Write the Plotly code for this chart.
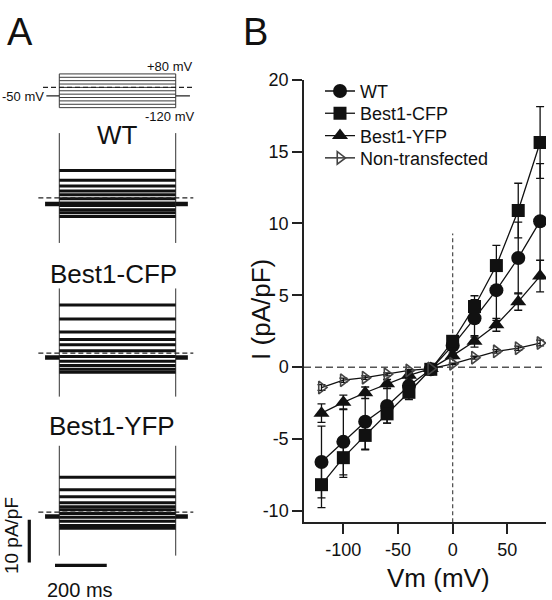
import plotly.graph_objects as go

W, H = 552, 600
FONT = "Liberation Sans, Arial, sans-serif"
INK = "#111111"

# ---------------- Panel B data (I-V relationship) ----------------
vm = [-120, -100, -80, -60, -40, -20, 0, 20, 40, 60, 80]
wt = [-6.6, -5.2, -3.8, -2.7, -1.3, -0.15, 1.5, 3.4, 5.36, 7.6, 10.16]
wt_err = [2.5, 2.3, 1.9, 1.2, 0.8, 0.2, 0.6, 1.3, 2.1, 2.5, 4.0]
cfp = [-8.18, -6.3, -4.75, -3.25, -1.75, -0.15, 1.8, 4.22, 7.07, 10.9, 15.64]
cfp_err = [1.6, 1.37, 1.0, 0.65, 0.5, 0.2, 0.4, 0.75, 1.4, 1.9, 2.5]
yfp = [-3.2, -2.45, -1.78, -1.16, -0.57, -0.1, 0.8, 1.8, 2.95, 4.56, 6.34]
yfp_err = [0.65, 0.5, 0.4, 0.3, 0.25, 0.1, 0.2, 0.4, 0.45, 0.6, 1.1]
nt = [-1.42, -0.91, -0.73, -0.5, -0.23, -0.1, 0.23, 0.66, 1.1, 1.32, 1.68]
nt_err = [0.2, 0.15, 0.12, 0.1, 0.08, 0.05, 0.05, 0.1, 0.12, 0.15, 0.2]
series_names = ["WT", "Best1-CFP", "Best1-YFP", "Non-transfected"]

x_ticks = [-100, -50, 0, 50]
x_ticktext = ["-100", "-50", "0", "50"]
y_ticks = [-10, -5, 0, 5, 10, 15, 20]
y_ticktext = ["-10", "-5", "0", "5", "10", "15", "20"]

# ---------------- Panel A data (protocol and current traces) ----------------
step_mv = [-120, -100, -80, -60, -40, -20, 0, 20, 40, 60, 80]
hold_mv = -50
pulse_start_ms, pulse_end_ms = 0, 450
proto_hold_ms = [-50, 505]
trace_hold_ms = [-55, 497]
zero_line_ms = [-81, 518]
proto_dash_ms = [-63, 524]

wt_levels = [6.4, 4.1, 2.8, 1.6, 0.7, -0.2, -1.2, -1.8, -2.8, -3.5, -4.4]
wt_hold = -1.45
wt_transient = [-10.6, 15.2]
cfp_levels = [11.3, 8.0, 5.0, 3.2, 2.0, 0.6, -0.8, -1.9, -2.9, -3.8, -4.5]
cfp_hold = -1.0
cfp_transient = [-10.2, 15.2]
yfp_levels = [8.2, 5.3, 3.6, 2.2, 1.3, 0.55, -0.3, -1.2, -2.1, -3.1, -3.8]
yfp_hold = -1.0
yfp_transient = [-10.2, 15.6]

scale_i = 10      # pA/pF
scale_t = 200     # ms
scale_bar_t0 = -16.6
scale_bar_x = -116
scale_bar_i_top = -1.8
scale_bar_t_y = -12.5


def py(p):
    return 1 - p / H


def px(p):
    return p / W


fig = go.Figure()

# ---------- Panel B ----------
styles = [
    dict(symbol="circle", size=14, color=INK, line=dict(width=0)),
    dict(symbol="square", size=13, color=INK, line=dict(width=0)),
    dict(symbol="triangle-up", size=14, color=INK, line=dict(width=0)),
    dict(symbol="triangle-right-open", size=11, color="#444444", line=dict(width=1.6, color="#444444")),
]
data_y = [wt, cfp, yfp, nt]
data_e = [wt_err, cfp_err, yfp_err, nt_err]

for yv, ev in zip(data_y, data_e):
    fig.add_trace(go.Scatter(
        x=vm, y=yv, mode="markers", marker=dict(size=2, opacity=0),
        error_y=dict(type="data", array=ev, color=INK, thickness=1.3, width=4),
        showlegend=False, hoverinfo="skip", xaxis="x", yaxis="y"))

legend_ids = ["legend", "legend2", "legend3", "legend4"]
for name, yv, st, lid in zip(series_names, data_y, styles, legend_ids):
    fig.add_trace(go.Scatter(
        x=vm, y=yv, mode="lines+markers", name=name, legend=lid,
        line=dict(color=INK, width=1.3), marker=st,
        xaxis="x", yaxis="y"))


# ---------- Panel A helpers ----------
def seg_trace(xs, ys, axis_n, color=INK, width=1.0, dash=None):
    return go.Scatter(x=xs, y=ys, mode="lines", showlegend=False, hoverinfo="skip",
                      line=dict(color=color, width=width, dash=dash),
                      xaxis="x%d" % axis_n, yaxis="y%d" % axis_n)


# Protocol (axis 2)
xs, ys = [], []
for v in step_mv:
    xs += [pulse_start_ms, pulse_end_ms, None]
    ys += [v, v, None]
for t in (pulse_start_ms, pulse_end_ms):
    xs += [t, t, None]
    ys += [min(step_mv), max(step_mv), None]
fig.add_trace(seg_trace(xs, ys, 2, color="#3a3a3a", width=1.0))
fig.add_trace(seg_trace([proto_hold_ms[0], pulse_start_ms, None, pulse_end_ms, proto_hold_ms[1]],
                        [hold_mv, hold_mv, None, hold_mv, hold_mv], 2, color="#222222", width=1.2))
fig.add_trace(seg_trace(proto_dash_ms, [0, 0], 2, color="#222222", width=1.3, dash="5px,3px"))

groups = [(3, wt_levels, wt_hold, wt_transient),
          (4, cfp_levels, cfp_hold, cfp_transient),
          (5, yfp_levels, yfp_hold, yfp_transient)]
for n, levels, hold, trans in groups:
    xs, ys = [], []
    for t in (pulse_start_ms, pulse_end_ms):
        xs += [t, t, None]
        ys += [trans[0], trans[1], None]
    fig.add_trace(seg_trace(xs, ys, n, color="#333333", width=1.0))
    xs, ys = [], []
    for L in levels:
        xs += [pulse_start_ms, pulse_end_ms, None]
        ys += [L, L, None]
    fig.add_trace(seg_trace(xs, ys, n, color=INK, width=3.0))
    fig.add_trace(seg_trace([trace_hold_ms[0], pulse_start_ms, None, pulse_end_ms, trace_hold_ms[1]],
                            [hold, hold, None, hold, hold], n, color=INK, width=4.5))
    fig.add_trace(seg_trace(zero_line_ms, [0, 0], n, color="#222222", width=1.3, dash="5px,3px"))

# scale bars on axis 5
fig.add_trace(seg_trace([scale_bar_x, scale_bar_x], [scale_bar_i_top, scale_bar_i_top - scale_i], 5,
                        color=INK, width=3.2))
fig.add_trace(seg_trace([scale_bar_t0, scale_bar_t0 + scale_t], [scale_bar_t_y, scale_bar_t_y], 5,
                        color=INK, width=3.2))

# ---------- Layout ----------
ms_per_px = 1 / 0.2587
xA_range = [(0 - 59.3) * ms_per_px, (200 - 59.3) * ms_per_px]
xA_domain = [0, px(200)]

axis_hidden = dict(visible=False, showgrid=False, zeroline=False, fixedrange=True)

mv_per_px = 1 / 0.1715
ipx = 4.33


def cur_range(zero_px, top_px, bot_px):
    return [-(bot_px - zero_px) / ipx, (zero_px - top_px) / ipx]


def legend_at(row_px):
    return dict(x=px(320), y=py(row_px), xanchor="left", yanchor="middle",
                font=dict(size=18, color=INK, family=FONT), bgcolor="rgba(0,0,0,0)",
                borderwidth=0, itemwidth=30)


layout = dict(
    width=W, height=H,
    margin=dict(l=0, r=0, t=0, b=0),
    paper_bgcolor="white", plot_bgcolor="rgba(0,0,0,0)",
    font=dict(family=FONT, color=INK),
    xaxis=dict(domain=[px(304), px(546)], range=[-136, 85.4], anchor="y",
               showgrid=False, zeroline=False, showline=True, linewidth=1.5, linecolor="#222222",
               ticks="outside", ticklen=10, tickwidth=1.5, tickcolor="#222222",
               tickvals=x_ticks, ticktext=x_ticktext, tickfont=dict(size=18, color=INK, family=FONT)),
    yaxis=dict(domain=[py(521), py(71)], range=[-10.8, 20], anchor="x",
               showgrid=False, zeroline=False, showline=True, linewidth=1.5, linecolor="#222222",
               ticks="outside", ticklen=10, tickwidth=1.5, tickcolor="#222222",
               tickvals=y_ticks, ticktext=y_ticktext, tickfont=dict(size=18, color=INK, family=FONT)),
    xaxis2=dict(domain=xA_domain, range=xA_range, anchor="y2", **axis_hidden),
    yaxis2=dict(domain=[py(115), py(50)], anchor="x2",
                range=[-120 - (115 - 99.3) * mv_per_px, 80 + (65 - 50) * mv_per_px], **axis_hidden),
    xaxis3=dict(domain=xA_domain, range=xA_range, anchor="y3", **axis_hidden),
    yaxis3=dict(domain=[py(240), py(120)], anchor="x3", range=cur_range(191, 120, 240), **axis_hidden),
    xaxis4=dict(domain=xA_domain, range=xA_range, anchor="y4", **axis_hidden),
    yaxis4=dict(domain=[py(400), py(280)], anchor="x4", range=cur_range(349, 280, 400), **axis_hidden),
    xaxis5=dict(domain=xA_domain, range=xA_range, anchor="y5", **axis_hidden),
    yaxis5=dict(domain=[py(575), py(440)], anchor="x5", range=cur_range(510.7, 440, 575), **axis_hidden),
    legend=legend_at(82.7),
    legend2=legend_at(105.3),
    legend3=legend_at(128.0),
    legend4=legend_at(150.7),
    shapes=[
        dict(type="line", xref="x domain", yref="y", x0=0, x1=1, y0=0, y1=0,
             line=dict(color="#555555", width=1.5, dash="7px,4px"), layer="below"),
        dict(type="line", xref="x", yref="y", x0=0, x1=0, y0=-10.8, y1=9.3,
             line=dict(color="#555555", width=1.3, dash="4px,3px"), layer="below"),
    ],
)
fig.update_layout(**layout)


def ann(text, x, y, size, xanchor="center", yanchor="middle", angle=0):
    fig.add_annotation(text=text, x=px(x), y=py(y), xref="paper", yref="paper",
                       showarrow=False, xanchor=xanchor, yanchor=yanchor, textangle=angle,
                       font=dict(size=size, color=INK, family=FONT))


ann("A", 20, 22, 38)
ann("B", 255, 22, 38)
ann("+80 mV", 194, 57, 13, xanchor="right")
ann("-120 mV", 196, 108, 13, xanchor="right")
ann("-50 mV", 46, 88, 13, xanchor="right")
ann("WT", 117, 127, 26)
ann("Best1-CFP", 113, 268, 26)
ann("Best1-YFP", 112, 423, 26)
ann("10 pA/pF", 11, 535, 19, angle=-90)
ann("200 ms", 80, 590, 20)
ann("Vm (mV)", 438, 578, 26)
ann("I (pA/pF)", 261, 305, 26, angle=-90)

fig.write_html(
    "out.html",
    config={"displayModeBar": False},
    post_script="document.body.style.margin='0';document.body.style.padding='0';"
                "document.body.style.overflow='hidden';",
)
